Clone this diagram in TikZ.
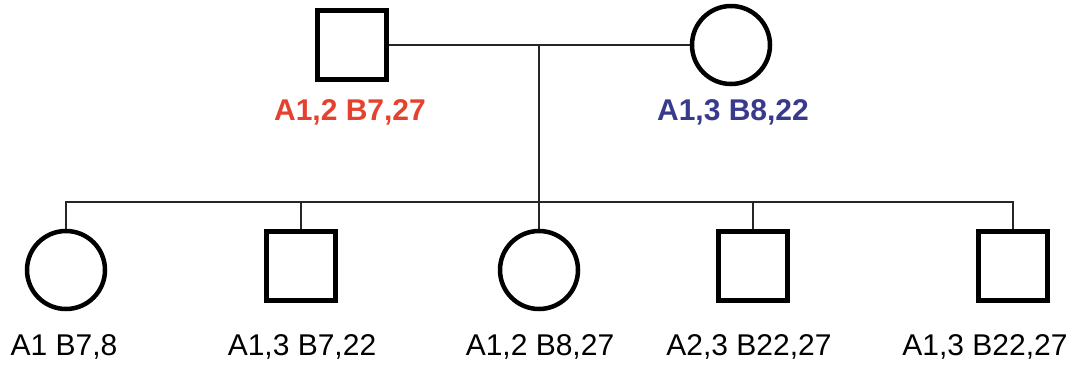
\documentclass[tikz,border=0pt]{standalone}
\usepackage{fontspec}
\setmainfont{Liberation Sans}
\definecolor{fred}{RGB}{228,66,46}
\definecolor{mblue}{RGB}{58,58,140}
\begin{document}
\begin{tikzpicture}[x=1pt,y=-1pt,
  male/.style={draw=black, rectangle, line width=5pt, minimum size=69pt, inner sep=0pt},
  female/.style={draw=black, circle, line width=4.5pt, minimum size=78pt, inner sep=0pt},
  link/.style={draw=black!85, line width=1.4pt},
  lab/.style={anchor=base, inner sep=0pt, font=\fontsize{30}{36}\selectfont},
  plab/.style={lab, font=\fontsize{30}{36}\selectfont\bfseries}]
\useasboundingbox (0,0) rectangle (1075,365);
% parents
\node[male] (fa) at (351.5,45) {};
\node[female] (mo) at (731,45) {};
\node[plab, text=fred] (lfa) at (350,120) {A1,2 B7,27};
\node[plab, text=mblue] (lmo) at (733,120) {A1,3 B8,22};
% children
\node[female] (c1) at (66,270) {};
\node[male] (c2) at (301,266) {};
\node[female] (c3) at (539,270) {};
\node[male] (c4) at (753,266) {};
\node[male] (c5) at (1013,266) {};
\node[lab] (l1) at (64,355) {A1 B7,8};
\node[lab] (l2) at (302,355) {A1,3 B7,22};
\node[lab] (l3) at (540,355) {A1,2 B8,27};
\node[lab] (l4) at (749,355) {A2,3 B22,27};
\node[lab] (l5) at (985,355) {A1,3 B22,27};
% connectors
\coordinate (m) at (539,45);
\coordinate (bar) at (539,202);
\draw[link] (fa.east) -- (mo.west);
\draw[link] (m) -- (bar);
\draw[link] (c1.north) |- (bar) -| (c5.north);
\draw[link] (c2.north) -- (c2.north |- bar);
\draw[link] (c3.north) -- (c3.north |- bar);
\draw[link] (c4.north) -- (c4.north |- bar);
\end{tikzpicture}
\end{document}
